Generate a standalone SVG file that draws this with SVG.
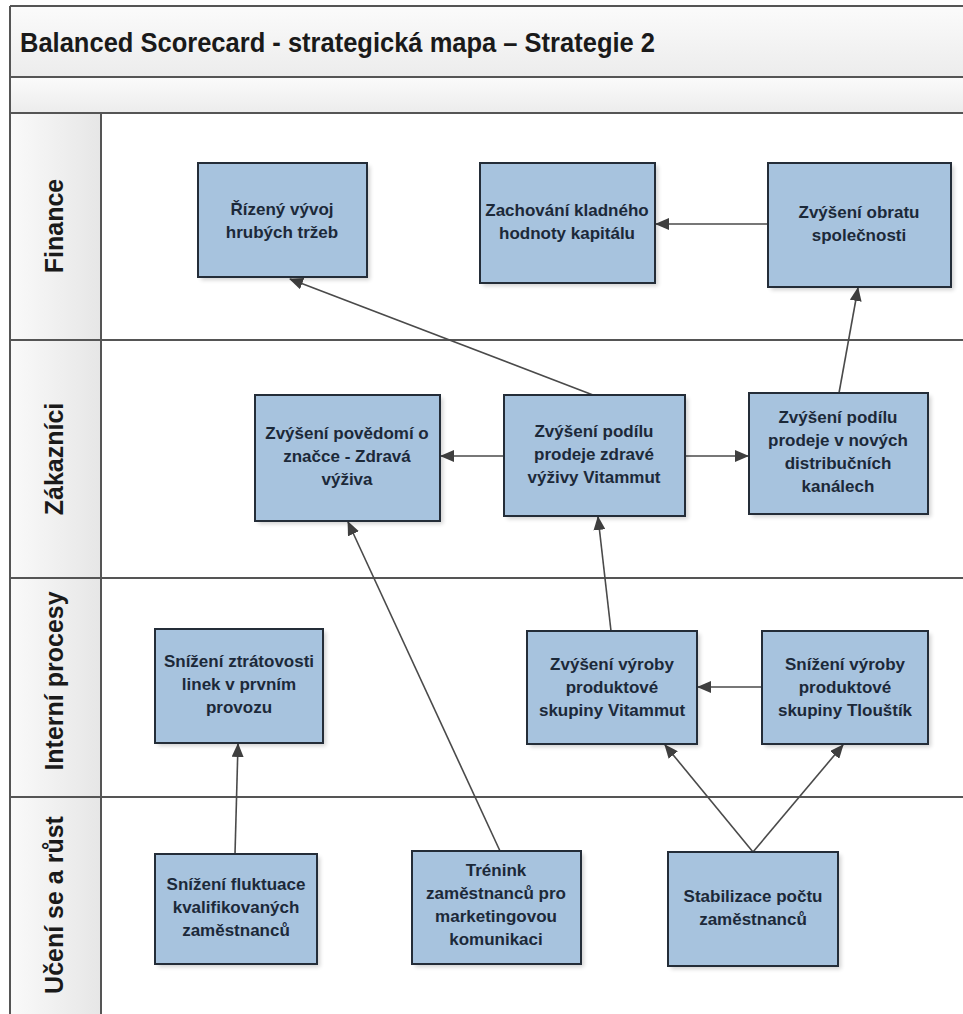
<svg xmlns="http://www.w3.org/2000/svg" width="963" height="1014" viewBox="0 0 963 1014">
  <style>
    .frame { fill: none; stroke: #555; stroke-width: 2; }
    .box { fill: #a7c3de; stroke: #242d38; stroke-width: 2; }
    .shadow { fill: #000; opacity: 0.18; filter: url(#soft); }
    .label { font-family: "Liberation Sans", Arial, sans-serif; font-weight: bold; font-size: 17px; fill: #1c2939; text-anchor: middle; }
    .lane { font-family: "Liberation Sans", Arial, sans-serif; font-weight: bold; font-size: 25px; fill: #1a1a1a; text-anchor: middle; }
    .title { font-family: "Liberation Sans", Arial, sans-serif; font-weight: bold; font-size: 27px; fill: #1a1a1a; }
    .link { fill: none; stroke: #4a4a4a; stroke-width: 1.6; marker-end: url(#head); }
  </style>
  <defs>
    <linearGradient id="band" x1="0" y1="0" x2="0" y2="1">
      <stop offset="0" stop-color="#fbfbfb"/>
      <stop offset="1" stop-color="#ececec"/>
    </linearGradient>
    <linearGradient id="laneHead" x1="0" y1="0" x2="1" y2="0">
      <stop offset="0" stop-color="#fafafa"/>
      <stop offset="1" stop-color="#e6e6e6"/>
    </linearGradient>
    <filter id="soft" x="-10%" y="-10%" width="120%" height="120%">
      <feGaussianBlur stdDeviation="2"/>
    </filter>
    <marker id="head" markerUnits="userSpaceOnUse" markerWidth="14" markerHeight="12" refX="13" refY="6" orient="auto">
      <path d="M0,0 L14,6 L0,12 z" fill="#3f3f3f"/>
    </marker>
  </defs>

  <!-- page background -->
  <rect x="0" y="0" width="963" height="1014" fill="#fff"/>

  <!-- title bands -->
  <g id="header">
    <rect x="10" y="6" width="960" height="71" fill="url(#band)"/>
    <rect x="10" y="77" width="960" height="36" fill="url(#band)"/>
    <text class="title" x="20" y="52" textLength="635" lengthAdjust="spacingAndGlyphs">Balanced Scorecard - strategická mapa – Strategie 2</text>
  </g>

  <!-- swimlanes -->
  <g id="lanes">
    <rect x="10" y="113" width="91" height="910" fill="url(#laneHead)"/>
    <line class="frame" x1="10" y1="6" x2="970" y2="6"/>
    <line class="frame" x1="10" y1="77" x2="970" y2="77"/>
    <line class="frame" x1="10" y1="113" x2="970" y2="113"/>
    <line class="frame" x1="10" y1="340" x2="970" y2="340"/>
    <line class="frame" x1="10" y1="578" x2="970" y2="578"/>
    <line class="frame" x1="10" y1="797" x2="970" y2="797"/>
    <line class="frame" x1="10" y1="6" x2="10" y2="1014"/>
    <line class="frame" x1="101" y1="113" x2="101" y2="1014"/>
    <text class="lane" transform="translate(63,226) rotate(-90)">Finance</text>
    <text class="lane" transform="translate(63,459) rotate(-90)">Zákazníci</text>
    <text class="lane" transform="translate(63,681) rotate(-90)">Interní procesy</text>
    <text class="lane" transform="translate(63,905) rotate(-90)">Učení se a růst</text>
  </g>

  <!-- connectors -->
  <g id="connectors">
    <line class="link" x1="593" y1="395" x2="290" y2="279"/>
    <line class="link" x1="768" y1="224" x2="656" y2="224"/>
    <line class="link" x1="839" y1="393" x2="858" y2="288"/>
    <line class="link" x1="504" y1="456" x2="441" y2="456"/>
    <line class="link" x1="685" y1="456" x2="748" y2="456"/>
    <line class="link" x1="611" y1="631" x2="598" y2="517"/>
    <line class="link" x1="500" y1="851" x2="348" y2="522"/>
    <line class="link" x1="762" y1="687" x2="698" y2="687"/>
    <line class="link" x1="235" y1="854" x2="238" y2="744"/>
    <line class="link" x1="753" y1="852" x2="665" y2="745"/>
    <line class="link" x1="753" y1="852" x2="843" y2="745"/>
  </g>

  <!-- Finance -->
  <g id="rizeny-vyvoj">
    <rect class="shadow" x="201" y="166" width="169" height="114"/>
    <rect class="box" x="198" y="163" width="169" height="114"/>
    <text class="label" x="282" y="215">Řízený vývoj</text>
    <text class="label" x="282" y="238">hrubých tržeb</text>
  </g>
  <g id="kladna-hodnota">
    <rect class="shadow" x="483" y="166" width="175" height="120"/>
    <rect class="box" x="480" y="163" width="175" height="120"/>
    <text class="label" x="567" y="216">Zachování kladného</text>
    <text class="label" x="567" y="239">hodnoty kapitálu</text>
  </g>
  <g id="obrat">
    <rect class="shadow" x="771" y="166" width="183" height="124"/>
    <rect class="box" x="768" y="163" width="183" height="124"/>
    <text class="label" x="859" y="218">Zvýšení obratu</text>
    <text class="label" x="859" y="241">společnosti</text>
  </g>

  <!-- Zákazníci -->
  <g id="povedomi">
    <rect class="shadow" x="258" y="398" width="185" height="126"/>
    <rect class="box" x="255" y="395" width="185" height="126"/>
    <text class="label" x="347" y="439">Zvýšení povědomí o</text>
    <text class="label" x="347" y="462">značce - Zdravá</text>
    <text class="label" x="347" y="485">výživa</text>
  </g>
  <g id="podil-vitammut">
    <rect class="shadow" x="507" y="398" width="181" height="121"/>
    <rect class="box" x="504" y="395" width="181" height="121"/>
    <text class="label" x="594" y="437">Zvýšení podílu</text>
    <text class="label" x="594" y="460">prodeje zdravé</text>
    <text class="label" x="594" y="483">výživy Vitammut</text>
  </g>
  <g id="podil-kanaly">
    <rect class="shadow" x="752" y="396" width="179" height="121"/>
    <rect class="box" x="749" y="393" width="179" height="121"/>
    <text class="label" x="838" y="423">Zvýšení podílu</text>
    <text class="label" x="838" y="446">prodeje v nových</text>
    <text class="label" x="838" y="469">distribučních</text>
    <text class="label" x="838" y="492">kanálech</text>
  </g>

  <!-- Interní procesy -->
  <g id="ztratovost">
    <rect class="shadow" x="158" y="632" width="168" height="114"/>
    <rect class="box" x="155" y="629" width="168" height="114"/>
    <text class="label" x="239" y="667">Snížení ztrátovosti</text>
    <text class="label" x="239" y="690">linek v prvním</text>
    <text class="label" x="239" y="713">provozu</text>
  </g>
  <g id="vyroba-vitammut">
    <rect class="shadow" x="530" y="634" width="170" height="113"/>
    <rect class="box" x="527" y="631" width="170" height="113"/>
    <text class="label" x="612" y="670">Zvýšení výroby</text>
    <text class="label" x="612" y="693">produktové</text>
    <text class="label" x="612" y="716">skupiny Vitammut</text>
  </g>
  <g id="vyroba-tloustik">
    <rect class="shadow" x="765" y="634" width="166" height="113"/>
    <rect class="box" x="762" y="631" width="166" height="113"/>
    <text class="label" x="845" y="670">Snížení výroby</text>
    <text class="label" x="845" y="693">produktové</text>
    <text class="label" x="845" y="716">skupiny Tlouštík</text>
  </g>

  <!-- Učení se a růst -->
  <g id="fluktuace">
    <rect class="shadow" x="158" y="857" width="162" height="110"/>
    <rect class="box" x="155" y="854" width="162" height="110"/>
    <text class="label" x="236" y="890">Snížení fluktuace</text>
    <text class="label" x="236" y="913">kvalifikovaných</text>
    <text class="label" x="236" y="936">zaměstnanců</text>
  </g>
  <g id="trenink">
    <rect class="shadow" x="415" y="854" width="169" height="113"/>
    <rect class="box" x="412" y="851" width="169" height="113"/>
    <text class="label" x="496" y="876">Trénink</text>
    <text class="label" x="496" y="899">zaměstnanců pro</text>
    <text class="label" x="496" y="922">marketingovou</text>
    <text class="label" x="496" y="945">komunikaci</text>
  </g>
  <g id="stabilizace">
    <rect class="shadow" x="671" y="855" width="170" height="114"/>
    <rect class="box" x="668" y="852" width="170" height="114"/>
    <text class="label" x="753" y="902">Stabilizace počtu</text>
    <text class="label" x="753" y="925">zaměstnanců</text>
  </g>
</svg>
